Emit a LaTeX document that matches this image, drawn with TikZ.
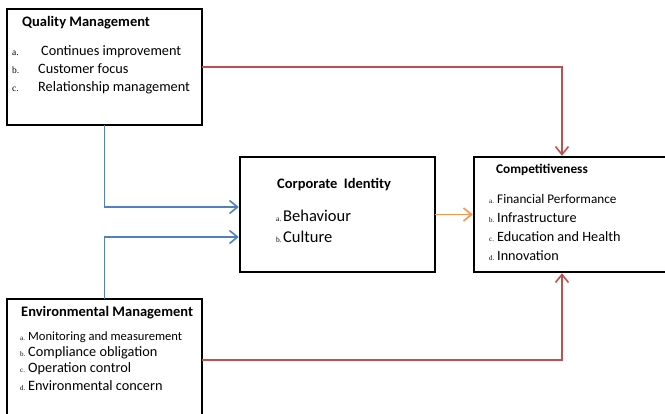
\documentclass[tikz,border=0pt]{standalone}
\usepackage{fontspec}
\setmainfont{Carlito}
\newfontfamily\markfont{Liberation Serif}
\usepackage{xcolor}
\usepackage{tikz}
\usetikzlibrary{arrows.meta, calc}

\definecolor{linkblue}{RGB}{79,129,189}
\definecolor{linkred}{RGB}{192,80,77}
\definecolor{linkorange}{RGB}{247,150,70}

\newcommand{\mk}[3]{\makebox[#1][l]{\markfont\fontsize{#2}{#2}\selectfont#3.}}

\begin{document}
\begin{tikzpicture}[x=1pt,y=-1pt,>={Straight Barb[length=8pt,width=13pt]},shorten >=1.2pt]
	\tikzstyle{box} = [draw,rectangle,line width=2.6pt,outer sep=0pt,inner sep=0pt,anchor=north west,minimum width=195pt,minimum height=116pt]
	\tikzstyle{head} = [anchor=base west,inner sep=0pt,font=\bfseries\fontsize{14.5}{16}\selectfont]
	\tikzstyle{item} = [anchor=base west,inner sep=0pt,font=\fontsize{14.3}{16}\selectfont]
	\tikzstyle{link} = [->,line width=1.6pt]
	\useasboundingbox (0,0) rectangle (665,414);
	\node[box]							(qm)	at (7,9)	{};
	\node[box,minimum height=122pt]		(em)	at (7,299)	{};
	\node[box,minimum height=115pt]		(ci)	at (240,157)	{};
	\node[box,minimum width=198pt,minimum height=115pt]	(comp)	at (474,157)	{};
	\node[head]	(qm-head)	at ($(qm.north west)+(15,18)$)	{Quality Management};
	\node[item]	(qm-a)		at ($(qm.north west)+(5,47)$)	{\mk{29pt}{9.5}{a}Continues improvement};
	\node[item]	(qm-b)		at ($(qm.north west)+(5,65)$)	{\mk{26pt}{9.5}{b}Customer focus};
	\node[item]	(qm-c)		at ($(qm.north west)+(5,83)$)	{\mk{26pt}{9.5}{c}Relationship management};
	\node[head]	(em-head)	at ($(em.north west)+(14,18)$)	{Environmental Management};
	\node[item,font=\fontsize{12.6}{14}\selectfont]	(em-a)	at ($(em.north west)+(13,42)$)	{\mk{8pt}{7}{a}Monitoring and measurement};
	\node[item]	(em-b)		at ($(em.north west)+(13,58)$)	{\mk{8pt}{7}{b}Compliance obligation};
	\node[item]	(em-c)		at ($(em.north west)+(13,74)$)	{\mk{8pt}{7}{c}Operation control};
	\node[item]	(em-d)		at ($(em.north west)+(13,92)$)	{\mk{8pt}{7}{d}Environmental concern};
	\node[head]	(ci-head)	at ($(ci.north west)+(37,32)$)	{Corporate~ Identity};
	\node[item,font=\fontsize{16.5}{18}\selectfont]	(ci-a)	at ($(ci.north west)+(36,65)$)	{\mk{7pt}{7.5}{a}Behaviour};
	\node[item,font=\fontsize{16.5}{18}\selectfont]	(ci-b)	at ($(ci.north west)+(36,86)$)	{\mk{7pt}{7.5}{b}Culture};
	\node[head,font=\bfseries\fontsize{13.3}{15}\selectfont]	(comp-head)	at ($(comp.north west)+(22,17)$)	{Competitiveness};
	\node[item,font=\fontsize{13.2}{15}\selectfont]	(comp-a)	at ($(comp.north west)+(15,47)$)	{\mk{8pt}{7}{a}Financial Performance};
	\node[item,font=\fontsize{14.2}{16}\selectfont]	(comp-b)	at ($(comp.north west)+(15,66)$)	{\mk{8pt}{7}{b}Infrastructure};
	\node[item,font=\fontsize{14.2}{16}\selectfont]	(comp-c)	at ($(comp.north west)+(15,85)$)	{\mk{8pt}{7}{c}Education and Health};
	\node[item,font=\fontsize{14.2}{16}\selectfont]	(comp-d)	at ($(comp.north west)+(15,104)$)	{\mk{8pt}{7}{d}Innovation};
	\coordinate (ci-in1)	at ($(ci.west)+(0,-7.5)$);
	\coordinate (ci-in2)	at ($(ci.west)+(0,22.5)$);
	\coordinate (comp-top)	at ($(comp.north west)+(88,0)$);
	\coordinate (comp-bot)	at ($(comp.south west)+(88,0)$);
	\draw[link,linkblue]	(qm.south) |- (ci-in1);
	\draw[link,linkblue]	(em.north) |- (ci-in2);
	\draw[link,linkorange]	(ci.east) -- (comp.west);
	\draw[link,linkred]		(qm.east) -| (comp-top);
	\draw[link,linkred]		(em.east) -| (comp-bot);
\end{tikzpicture}
\end{document}
